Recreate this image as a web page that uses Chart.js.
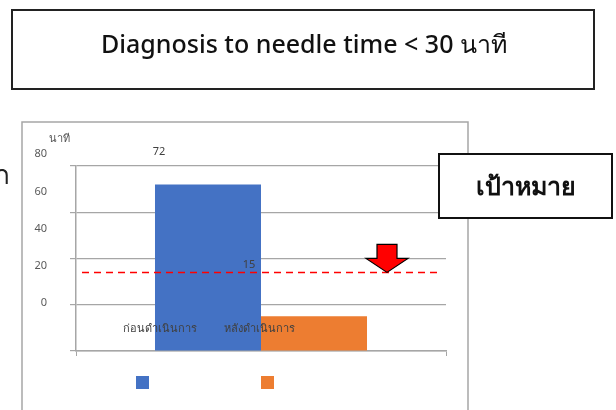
<!DOCTYPE html>
<html>
<head>
<meta charset="utf-8">
<script src="https://cdn.jsdelivr.net/npm/chart.js@4.4.0/dist/chart.umd.min.js"></script>
<style>
  html, body { margin: 0; padding: 0; background: #fff; }
  #wrap { position: relative; width: 616px; height: 410px; }
</style>
</head>
<body>
<div id="wrap"><canvas id="needleChart" width="616" height="410"></canvas></div>
<script>
// data
const seriesNames = ['ก่อนดำเนินการ', 'หลังดำเนินการ'];
const seriesValues = [72, 15];
const seriesColors = ['#4472c4', '#ed7d31'];
const yTicks = [0, 20, 40, 60, 80];
const targetValue = 34;
const titleText = 'Diagnosis to needle time < 30 นาที';
const targetText = 'เป้าหมาย';
const unitText = 'นาที';

const FONT = '"Noto Sans", Tahoma, "DejaVu Sans", sans-serif';

// label offsets (the source slide has them shifted off their marks)
const valueLabelShift = [[-49, -33], [-65, -51]];
const nameLabelShift = [-48, -55];

function box(ctx, x1, y1, x2, y2, color, w) {
    ctx.save();
    ctx.strokeStyle = color;
    ctx.lineWidth = w;
    ctx.strokeRect(x1, y1, x2 - x1, y2 - y1);
    ctx.restore();
}

const overlay = {
    id: 'overlay',
    beforeDraw(chart) {
        const ctx = chart.ctx;
        // outer chart frame
        box(ctx, 22, 122, 468, 440, '#a6a6a6', 1.5);
    },
    afterDraw(chart) {
        const ctx = chart.ctx;
        const y = chart.scales.y;
        const area = chart.chartArea;
        ctx.save();

        // title box
        box(ctx, 12, 10, 594, 89, '#222', 2);
        ctx.fillStyle = '#111';
        ctx.font = '500 25px ' + FONT;
        ctx.textAlign = 'center';
        ctx.textBaseline = 'middle';
        ctx.fillText(titleText, 304, 46);

        // cut-off text at left edge
        ctx.font = '26px ' + FONT;
        ctx.textAlign = 'right';
        ctx.fillStyle = '#222';
        ctx.fillText('ก', 10, 177);

        // y tick labels (shifted like the source)
        ctx.font = '11px ' + FONT;
        ctx.fillStyle = '#595959';
        ctx.textAlign = 'right';
        yTicks.forEach(v => {
            const p = y.getPixelForValue(v);
            const ly = area.top + (p - area.top) * 0.805 - 11.7;
            ctx.fillText(String(v), 47, ly);
        });
        ctx.textAlign = 'center';
        ctx.fillText(unitText, 59, 139);

        // value and name labels
        ctx.fillStyle = '#404040';
        chart.data.datasets.forEach((ds, i) => {
            const bar = chart.getDatasetMeta(i).data[0];
            ctx.fillText(String(ds.data[0]), bar.x + valueLabelShift[i][0], bar.y + valueLabelShift[i][1]);
            ctx.fillText(ds.label, bar.x + nameLabelShift[i], 329);
        });

        // target dashed line
        const ty = y.getPixelForValue(targetValue);
        ctx.strokeStyle = '#ff0000';
        ctx.lineWidth = 1.5;
        ctx.setLineDash([7, 5]);
        ctx.beginPath();
        ctx.moveTo(area.left + 6, ty);
        ctx.lineTo(area.right - 9, ty);
        ctx.stroke();
        ctx.setLineDash([]);

        // arrow pointing at target
        const ax = 387;
        ctx.beginPath();
        ctx.moveTo(ax - 10, ty - 28);
        ctx.lineTo(ax + 10, ty - 28);
        ctx.lineTo(ax + 10, ty - 14);
        ctx.lineTo(ax + 21, ty - 14);
        ctx.lineTo(ax, ty);
        ctx.lineTo(ax - 21, ty - 14);
        ctx.lineTo(ax - 10, ty - 14);
        ctx.closePath();
        ctx.fillStyle = '#ff0000';
        ctx.fill();
        ctx.strokeStyle = '#000';
        ctx.lineWidth = 1.2;
        ctx.stroke();

        // target box
        ctx.fillStyle = '#fff';
        ctx.fillRect(439, 154, 173, 64);
        box(ctx, 439, 154, 612, 218, '#111', 2);
        ctx.fillStyle = '#111';
        ctx.font = '600 25px ' + FONT;
        ctx.fillText(targetText, 526, 188);

        // legend squares without text
        const legendX = [136, 261];
        seriesColors.forEach((c, i) => {
            ctx.fillStyle = c;
            ctx.fillRect(legendX[i], 376, 13, 13);
        });
        ctx.restore();
    }
};

new Chart(document.getElementById('needleChart'), {
    type: 'bar',
    data: {
        labels: [''],
        datasets: seriesNames.map((name, i) => ({
            label: name,
            data: [seriesValues[i]],
            backgroundColor: seriesColors[i],
            categoryPercentage: 0.573,
            barPercentage: 1
        }))
    },
    options: {
        responsive: false,
        animation: false,
        layout: { padding: { top: 166, left: 70, right: 170, bottom: 54 } },
        plugins: { legend: { display: false }, tooltip: { enabled: false } },
        scales: {
            x: {
                ticks: { display: false },
                grid: { offset: true, drawOnChartArea: false, tickLength: 5, color: '#a6a6a6' },
                border: { color: '#a6a6a6', width: 1.5 },
                afterFit: s => { s.height = 5; }
            },
            y: {
                min: 0,
                max: 80,
                ticks: { display: false, stepSize: 20 },
                grid: { tickLength: 6, color: '#a6a6a6', lineWidth: 1.2 },
                border: { color: '#a6a6a6', width: 1.5 },
                afterFit: s => { s.width = 6; }
            }
        }
    },
    plugins: [overlay]
});
</script>
</body>
</html>
